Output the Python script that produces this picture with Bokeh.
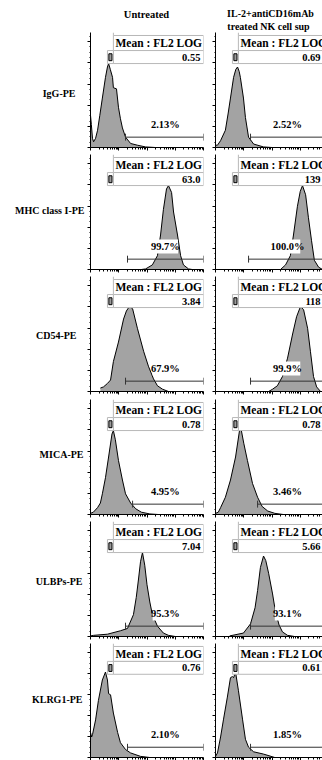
from bokeh.plotting import figure
from bokeh.layouts import column, row
from bokeh.models import FixedTicker, Range1d
from bokeh.core.properties import value
from bokeh.embed import file_html
from bokeh.resources import INLINE

# ---------------- data ----------------
markers = ["IgG-PE", "MHC class I-PE", "CD54-PE", "MICA-PE", "ULBPs-PE", "KLRG1-PE"]
header_untreated = ["Untreated"]
header_treated = ["IL-2+antiCD16mAb", "treated NK cell sup"]

# FL2 LOG position (decades, 10^0..10^4) and event counts (relative, % of axis height)
igg_u_log = [0.00, 0.03, 0.07, 0.11, 0.18, 0.25, 0.33, 0.42, 0.53, 0.60, 0.64, 0.70, 0.78, 0.81, 0.92, 0.99, 1.06, 1.13, 1.24, 1.42, 1.66, 1.95, 2.3]
igg_u_cnt = [28, 20, 8, 5, 8, 15, 28, 43, 61, 70, 73, 68, 61, 52, 51, 35, 25, 17, 9, 3.5, 2, 0.5, 0]
igg_t_log = [0.00, 0.07, 0.18, 0.35, 0.45, 0.53, 0.64, 0.72, 0.78, 0.84, 0.88, 0.99, 1.06, 1.17, 1.35, 1.70, 2.0]
igg_t_cnt = [2, 2, 6, 15, 30, 43, 61, 68, 70, 66, 61, 43, 26, 9, 3, 0.5, 0]

mhc_u_log = [1.80, 1.95, 2.19, 2.37, 2.48, 2.58, 2.69, 2.76, 2.87, 2.94, 3.08, 3.19, 3.29, 3.47, 3.6]
mhc_u_cnt = [0, 0.5, 4, 12, 30, 52, 70, 73, 67, 50, 30, 12, 4, 0.5, 0]
mhc_t_log = [2.30, 2.48, 2.65, 2.76, 2.90, 3.00, 3.08, 3.19, 3.29, 3.40, 3.50, 3.65, 3.79]
mhc_t_cnt = [0, 4, 12, 30, 55, 68, 73, 65, 45, 25, 8, 2, 0]

cd54_u_log = [0.35, 0.46, 0.60, 0.71, 0.81, 0.99, 1.17, 1.27, 1.38, 1.49, 1.66, 1.88, 2.05, 2.23, 2.37, 2.55, 2.76]
cd54_u_cnt = [3, 4, 7, 10, 26, 43, 63, 70, 74, 72, 55, 35, 22, 11, 5, 2, 0]
cd54_t_log = [1.88, 2.02, 2.19, 2.37, 2.55, 2.73, 2.87, 3.01, 3.12, 3.26, 3.36, 3.47, 3.58, 3.72]
cd54_t_cnt = [0, 2, 5, 13, 29, 50, 65, 74, 71, 55, 35, 13, 4, 0]

mica_u_log = [0.00, 0.10, 0.25, 0.35, 0.42, 0.53, 0.64, 0.76, 0.81, 0.88, 0.99, 1.13, 1.24, 1.42, 1.60, 1.80, 2.10, 2.40]
mica_u_cnt = [1, 2, 6, 10, 18, 32, 50, 70, 73, 65, 47, 30, 18, 10, 5, 2, 0.5, 0]
mica_t_log = [0.00, 0.10, 0.18, 0.35, 0.53, 0.71, 0.85, 0.90, 1.00, 1.13, 1.31, 1.49, 1.65, 1.85, 2.10, 2.40]
mica_t_cnt = [1, 2, 6, 15, 30, 50, 73, 75, 62, 47, 27, 15, 7, 3, 1, 0]

ulbp_u_log = [0.00, 0.11, 0.60, 1.06, 1.31, 1.52, 1.62, 1.70, 1.77, 1.84, 1.92, 2.00, 2.10, 2.19, 2.37, 2.58, 2.76, 3.00]
ulbp_u_cnt = [0.5, 1, 2, 5, 7, 19, 34, 50, 65, 73, 62, 45, 30, 19, 9, 3, 1, 0]
ulbp_t_log = [0.50, 0.99, 1.24, 1.40, 1.49, 1.59, 1.70, 1.78, 1.88, 2.02, 2.12, 2.25, 2.37, 2.55, 2.80]
ulbp_t_cnt = [0.5, 3, 11, 25, 40, 60, 70, 66, 55, 37, 22, 10, 4, 1, 0]

klrg_u_log = [0.00, 0.04, 0.07, 0.18, 0.28, 0.42, 0.53, 0.60, 0.64, 0.71, 0.81, 0.96, 1.06, 1.24, 1.42, 1.77, 2.1]
klrg_u_cnt = [22, 18, 20, 33, 50, 68, 75, 68, 56, 55, 39, 22, 13, 7, 4, 1, 0]
klrg_t_log = [0.00, 0.07, 0.18, 0.28, 0.42, 0.53, 0.60, 0.64, 0.71, 0.81, 0.96, 1.06, 1.17, 1.35, 1.70, 2.1]
klrg_t_cnt = [1, 4, 18, 33, 53, 70, 71, 70, 75, 59, 33, 16, 9, 5, 3, 0]

mean_untreated = ["0.55", "63.0", "3.84", "0.78", "7.04", "0.76"]
mean_treated = ["0.69", "139", "118", "0.78", "5.66", "0.61"]
pct_untreated = ["2.13%", "99.7%", "67.9%", "4.95%", "95.3%", "2.10%"]
pct_treated = ["2.52%", "100.0%", "99.9%", "3.46%", "93.1%", "1.85%"]
gate_lo_untreated = [1.24, 1.31, 1.24, 1.49, 1.24, 1.31]
gate_lo_treated = [1.24, 1.17, 1.24, 1.49, 1.24, 1.24]

hist_untreated = [(igg_u_log, igg_u_cnt), (mhc_u_log, mhc_u_cnt), (cd54_u_log, cd54_u_cnt),
                  (mica_u_log, mica_u_cnt), (ulbp_u_log, ulbp_u_cnt), (klrg_u_log, klrg_u_cnt)]
hist_treated = [(igg_t_log, igg_t_cnt), (mhc_t_log, mhc_t_cnt), (cd54_t_log, cd54_t_cnt),
                (mica_t_log, mica_t_cnt), (ulbp_t_log, ulbp_t_cnt), (klrg_t_log, klrg_t_cnt)]

# ---------------- style / layout ----------------
FONT = value("Liberation Serif")
FILL = "#a3a3a3"
BOXLINE = "#b8b8b8"
PX_PER_DEC = 28.25
HEADER_H = 32
ROW_H = [120, 122, 123, 122, 121, 120]
ROW_TOP = [0, 2, 2, 2, 2, 3]
ROW_BOT = [5, 5, 6, 5, 4, 2]
LABEL_W = 85
LABEL_Y = [93, 210, 335, 454, 581, 699]
LABEL_RIGHT = [75, 84, 76, 83, 82, 82]


def style_axis(ax, tick_out, minor_out):
    ax.major_label_text_font_size = "1px"
    ax.major_label_text_alpha = 0
    ax.major_label_standoff = 0
    ax.axis_line_color = "black"
    ax.major_tick_line_color = "black"
    ax.minor_tick_line_color = "black"
    ax.major_tick_in = 0
    ax.minor_tick_in = 0
    ax.major_tick_out = tick_out
    ax.minor_tick_out = minor_out


def make_panel(r, logx, cnt, mean_txt, pct_txt, gate_lo, side):
    if side == 0:
        frame_w, mbr = 113, 7
        pct_x, val_x = 2.65, 3.89
    else:
        frame_w, mbr = 107, 0
        pct_x, val_x = 2.55, 3.72
    x_end = 10 ** (frame_w / PX_PER_DEC)
    p = figure(width=5 + frame_w + mbr, height=ROW_H[r], x_axis_type="log",
               x_range=Range1d(1, x_end), y_range=Range1d(0, 100),
               output_backend="svg", toolbar_location=None,
               min_border_left=5, min_border_right=mbr,
               min_border_top=ROW_TOP[r], min_border_bottom=ROW_BOT[r])
    p.outline_line_color = None
    p.grid.visible = False
    p.background_fill_color = "white"
    p.border_fill_color = "white"

    xs = [10 ** v for v in logx]
    p.varea(x=xs, y1=[0] * len(xs), y2=cnt, fill_color=FILL)
    p.line(x=xs, y=cnt, line_color="black", line_width=1)

    # statistics box
    bl, bm, br = 10 ** 0.60, 10 ** 0.81, 10 ** 4
    top, mid, bot = 97.4, 84.3, 73.0
    p.quad(left=[bm], right=[br], top=[top], bottom=[mid], fill_color="white", line_color=BOXLINE)
    p.quad(left=[bm], right=[br], top=[mid], bottom=[bot], fill_color="white", line_color=BOXLINE)
    p.quad(left=[bl], right=[bm], top=[mid], bottom=[bot], fill_color="white", line_color=BOXLINE)
    p.segment(x0=[bm], y0=[100], x1=[bm], y1=[top], line_color=BOXLINE)
    p.quad(left=[10 ** 0.65], right=[10 ** 0.76], top=[81.5], bottom=[75.5],
           fill_color="#9a9a9a", line_color="black", line_width=1)
    p.text(x=[10 ** 0.885], y=[(top + mid) / 2], text=["Mean : FL2 LOG"], text_font=FONT,
           text_font_style="bold", text_font_size="11.5px", text_align="left",
           text_baseline="middle", text_color="black")
    p.text(x=[10 ** val_x], y=[(mid + bot) / 2], text=[mean_txt], text_font=FONT,
           text_font_style="bold", text_font_size="10.5px", text_align="right",
           text_baseline="middle", text_color="black")

    # marker gate
    gy = 9
    g0 = 10 ** gate_lo
    p.quad(left=[10 ** (pct_x - 0.45)], right=[10 ** (pct_x + 0.45)], top=[26], bottom=[14],
           fill_color="white", line_color=None)
    p.text(x=[10 ** pct_x], y=[20], text=[pct_txt], text_font=FONT, text_font_style="bold",
           text_font_size="10.5px", text_align="center", text_baseline="middle",
           text_color="black")
    p.segment(x0=[g0], y0=[gy], x1=[1e4], y1=[gy], line_color="#333333", line_width=1)
    p.segment(x0=[g0, 1e4], y0=[gy - 3, gy - 3], x1=[g0, 1e4], y1=[gy + 3, gy + 3],
              line_color="#333333", line_width=1)

    # axes
    minor_x = [m * 10 ** k for k in range(4) for m in range(2, 10)]
    p.xaxis.ticker = FixedTicker(ticks=[1, 10, 100, 1000, 10000], minor_ticks=minor_x)
    p.yaxis.ticker = FixedTicker(ticks=[0, 18.4, 36.8, 55.2, 73.6, 92.0],
                                 minor_ticks=[round(4.6 * k, 1) for k in range(22)])
    style_axis(p.xaxis[0], 3, 2)
    style_axis(p.yaxis[0], 3, 1)
    return p


left_figs = []
right_figs = []
for i in range(6):
    lx, lc = hist_untreated[i]
    rx, rc = hist_treated[i]
    left_figs.append(make_panel(i, lx, lc, mean_untreated[i], pct_untreated[i], gate_lo_untreated[i], 0))
    right_figs.append(make_panel(i, rx, rc, mean_treated[i], pct_treated[i], gate_lo_treated[i], 1))

# header
hdr = figure(width=322, height=HEADER_H, x_range=Range1d(0, 322), y_range=Range1d(HEADER_H, 0),
             output_backend="svg", toolbar_location=None, min_border=0)
hdr.axis.visible = False
hdr.grid.visible = False
hdr.outline_line_color = None
hdr.text(x=[146], y=[14], text=header_untreated, text_font=FONT, text_font_style="bold",
         text_font_size="10.5px", text_align="center", text_baseline="middle", text_color="black")
hdr.text(x=[270, 268], y=[13, 26], text=header_treated, text_font=FONT, text_font_style="bold",
         text_font_size="10px", text_align="center", text_baseline="middle", text_color="black")

# row labels
total_rows = sum(ROW_H)
lab = figure(width=LABEL_W, height=total_rows, x_range=Range1d(0, LABEL_W),
             y_range=Range1d(HEADER_H + total_rows, HEADER_H),
             output_backend="svg", toolbar_location=None, min_border=0)
lab.axis.visible = False
lab.grid.visible = False
lab.outline_line_color = None
lab.text(x=LABEL_RIGHT, y=LABEL_Y, text=markers, text_font=FONT,
         text_font_style="bold", text_font_size="10px", text_align="right",
         text_baseline="middle", text_color="black")

layout = column(hdr, row(lab, column(*left_figs, spacing=0), column(*right_figs, spacing=0), spacing=0),
                spacing=0)

open("out.html", "w").write(file_html(layout, INLINE))
